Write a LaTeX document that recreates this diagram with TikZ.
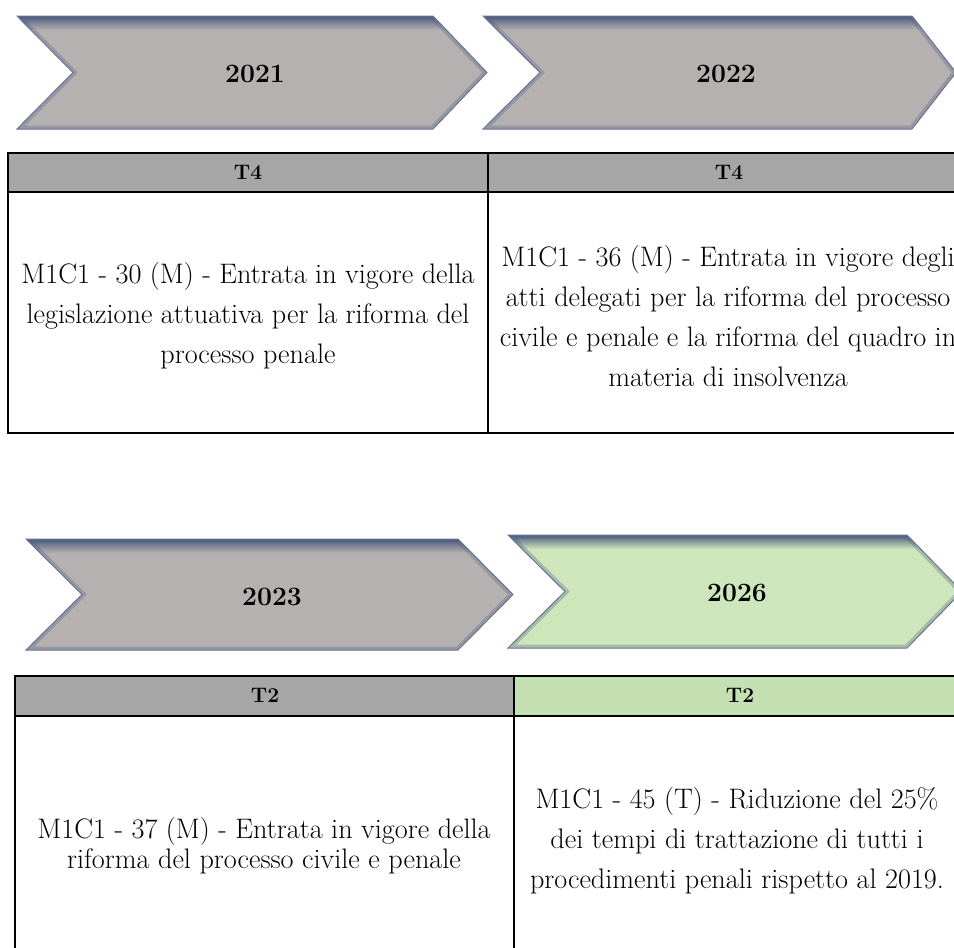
\documentclass[tikz,border=0pt]{standalone}
\usepackage{fontspec}
\definecolor{chevgrey}{RGB}{181,177,177}
\definecolor{chevgreen}{RGB}{205,230,188}
\definecolor{chevedge}{RGB}{78,92,128}
\definecolor{hdrgrey}{RGB}{166,166,166}
\definecolor{hdrgreen}{RGB}{197,224,179}
\newcommand\mychev[7]{%
  \begin{scope}
    \clip (#2,#3) -- (#4,#3) -- (#5,{(#3+#6)/2}) -- (#4,#6) -- (#2,#6) -- (#7,{(#3+#6)/2}) -- cycle;
    \fill[#1] (#2-5,#3-5) rectangle (#5+5,#6+5);
    \shade[top color=chevedge, bottom color=#1] (#2-5,#3) rectangle (#5+5,#3+14);
    \draw[chevedge, line width=7pt, opacity=0.3]
      (#2,#3) -- (#4,#3) -- (#5,{(#3+#6)/2}) -- (#4,#6) -- (#2,#6) -- (#7,{(#3+#6)/2}) -- cycle;
  \end{scope}
  \draw[chevedge!85, line width=1pt, line join=miter]
    (#2,#3) -- (#4,#3) -- (#5,{(#3+#6)/2}) -- (#4,#6) -- (#2,#6) -- (#7,{(#3+#6)/2}) -- cycle;
}
\begin{document}
\begin{tikzpicture}[x=1pt,y=-1pt,
  yeartxt/.style={font=\fontsize{26.5}{30}\selectfont\bfseries, text=black, inner sep=0pt},
  hdrtxt/.style={font=\fontsize{21}{23}\selectfont\bfseries, inner sep=0pt},
  celltxt/.style={font=\fontsize{28.2}{40}\selectfont, align=center, inner sep=0pt},
  celltight/.style={font=\fontsize{28.2}{30}\selectfont, align=center, inner sep=0pt},
  tbl/.style={line width=2pt, black, line cap=rect}]
\useasboundingbox (0,0) rectangle (954,948);
\clip (0,0) rectangle (954,948);
\fill[white] (0,0) rectangle (954,948);

% top chevrons
\mychev{chevgrey}{17}{16}{433}{487}{129}{73}
\mychev{chevgrey}{483}{16}{912}{956}{129}{540}
\node[yeartxt] (y2021) at (255,74) {2021};
\node[yeartxt] (y2022) at (726,74) {2022};

% top table
\fill[hdrgrey] (8,153) rectangle (960,192);
\draw[tbl] (960,153) -- (8,153) -- (8,433) -- (960,433);
\draw[tbl] (8,192) -- (960,192);
\draw[tbl] (488,153) -- (488,433);
\node[hdrtxt] (h1) at (248,172) {T4};
\node[hdrtxt] (h2) at (729,172) {T4};
\node[celltxt] (c30) at (248,316) {M1C1 - 30 (M) - Entrata in vigore della\\legislazione attuativa per la riforma del\\processo penale};
\node[celltxt] (c36) at (728,316) {M1C1 - 36 (M) - Entrata in vigore degli\\atti delegati per la riforma del processo\\civile e penale e la riforma del quadro in\\materia di insolvenza};

% bottom chevrons
\mychev{chevgrey}{26}{539}{458}{513}{650}{82}
\mychev{chevgreen}{508}{535}{907}{962}{648}{565}
\node[yeartxt] (y2023) at (272,597) {2023};
\node[yeartxt] (y2026) at (737,593) {2026};

% bottom table
\fill[hdrgrey] (15,676) rectangle (514,716);
\fill[hdrgreen] (514,676) rectangle (960,716);
\draw[tbl] (960,676) -- (15,676) -- (15,960);
\draw[tbl] (15,716) -- (960,716);
\draw[tbl] (514,676) -- (514,960);
\node[hdrtxt] (h3) at (265,695) {T2};
\node[hdrtxt] (h4) at (740,695) {T2};
\node[celltight] (c37) at (264,846) {M1C1 - 37 (M) - Entrata in vigore della\\riforma del processo civile e penale};
\node[celltxt] (c45) at (737,841) {M1C1 - 45 (T) - Riduzione del 25\%\\dei tempi di trattazione di tutti i\\procedimenti penali rispetto al 2019.};
\end{tikzpicture}
\end{document}
